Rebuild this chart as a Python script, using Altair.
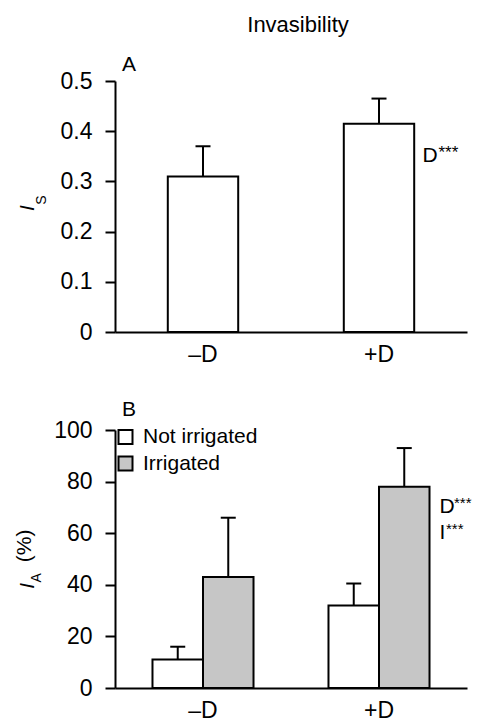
import altair as alt
import pandas as pd

FONT = "Liberation Sans"

conditions = ["–D", "+D"]
is_mean = [0.31, 0.415]
is_err = [0.06, 0.05]

groups = ["Not irrigated", "Irrigated"]
ia_not = [11, 32]
ia_not_err = [5, 8.5]
ia_irr = [43, 78]
ia_irr_err = [23, 15]

grey = "#c6c6c6"

dfA = pd.DataFrame({
    "cond": conditions,
    "mean": is_mean,
    "upper": [m + e for m, e in zip(is_mean, is_err)],
})

rows = []
for i, c in enumerate(conditions):
    rows.append({"cond": c, "irr": groups[0], "mean": ia_not[i], "upper": ia_not[i] + ia_not_err[i]})
    rows.append({"cond": c, "irr": groups[1], "mean": ia_irr[i], "upper": ia_irr[i] + ia_irr_err[i]})
dfB = pd.DataFrame(rows)

# annotation texts
annA = pd.DataFrame({"cond": ["+D"], "y": [0.35], "t": ["D"], "s": ["***"]})
annB_D = pd.DataFrame({"cond": ["+D"], "y": [70], "t": ["D"], "s": ["***"]})
annB_I = pd.DataFrame({"cond": ["+D"], "y": [60], "t": ["I"], "s": ["***"]})
ytA = pd.DataFrame({"y": [0.247], "t": ["I"]})
ytA2 = pd.DataFrame({"y": [0.263], "t": ["S"]})
ytB = pd.DataFrame({"y": [39.6], "t": ["I"]})
ytB2 = pd.DataFrame({"y": [42.7], "t": ["A"]})
ytB3 = pd.DataFrame({"y": [55.1], "t": ["(%)"]})

xaxis = alt.Axis(ticks=False, labelAngle=0, labelPadding=11, labelFontSize=23, title=None)
xs = alt.X("cond:N", sort=conditions)


def ann(df, dx, dy=0, size=21, field="t"):
    return alt.Chart(df).mark_text(font=FONT, fontSize=size, align="left", dx=dx, dy=dy,
                                   color="black").encode(x=xs, y="y:Q", text=f"{field}:N")


def ytitle(df, x, size, italic=False):
    kw = {"fontStyle": "italic"} if italic else {}
    return alt.Chart(df).mark_text(font=FONT, fontSize=size, angle=270, align="center",
                                   baseline="middle", color="black", **kw).encode(
        x=alt.value(x), y="y:Q", text="t:N")


# ---------- Panel A ----------
xA = alt.X("cond:N", sort=conditions, title=None,
           scale=alt.Scale(paddingInner=0.6, paddingOuter=0.3), axis=xaxis)
yA = alt.Y("mean:Q", title=None, scale=alt.Scale(domain=[0, 0.5]),
           axis=alt.Axis(values=[0, 0.1, 0.2, 0.3, 0.4, 0.5],
                         labelExpr="datum.value == 0 ? '0' : format(datum.value, '.1f')"))

baseA = alt.Chart(dfA)
barsA = baseA.mark_bar(fill="white", stroke="black", strokeWidth=2).encode(x=xA, y=yA)
errA = baseA.mark_rule(color="black", strokeWidth=2).encode(x=xs, y="mean:Q", y2="upper:Q")
capA = baseA.mark_tick(color="black", size=15, thickness=2, opacity=1).encode(x=xs, y="upper:Q")

panelA = alt.layer(
    barsA, errA, capA,
    ann(annA, 43.5), ann(annA, 59.5, -3, 17, "s"),
    ytitle(ytA, -87, 21, True), ytitle(ytA2, -73, 14),
).properties(
    width=352, height=251,
    title=alt.TitleParams("A", anchor="start", frame="group", fontSize=21, font=FONT,
                          fontWeight="normal", dx=7, offset=-5.4, color="black"))

# ---------- Panel B ----------
xB = alt.X("cond:N", sort=conditions, title=None,
           scale=alt.Scale(paddingInner=0.426, paddingOuter=0.213), axis=xaxis)
yB = alt.Y("mean:Q", title=None, scale=alt.Scale(domain=[0, 100]),
           axis=alt.Axis(values=[0, 20, 40, 60, 80, 100]))
xoff = alt.XOffset("irr:N", sort=groups, scale=alt.Scale(paddingInner=0))

baseB = alt.Chart(dfB)
barsB = baseB.mark_bar(stroke="black", strokeWidth=2).encode(
    x=xB, xOffset=xoff, y=yB,
    fill=alt.Fill("irr:N", sort=groups,
                  scale=alt.Scale(domain=groups, range=["white", grey]),
                  legend=alt.Legend(orient="none", legendX=0, legendY=-3.5, title=None,
                                    symbolType="square", symbolSize=196,
                                    symbolStrokeColor="black", symbolStrokeWidth=2,
                                    labelFontSize=21, labelFont=FONT, labelColor="black",
                                    labelOffset=7, rowPadding=3.5, padding=0)))
errB = baseB.mark_rule(color="black", strokeWidth=2).encode(
    x=xs, xOffset=xoff, y="mean:Q", y2="upper:Q")
capB = baseB.mark_tick(color="black", size=15, thickness=2, opacity=1).encode(
    x=xs, xOffset=xoff, y="upper:Q")

panelB = alt.layer(
    barsB, errB, capB,
    ann(annB_D, 60.5), ann(annB_D, 75, -4, 15, "s"),
    ann(annB_I, 60.5), ann(annB_I, 67, -4, 15, "s"),
    ytitle(ytB, -87, 21, True), ytitle(ytB2, -78, 14), ytitle(ytB3, -90, 21),
).properties(
    width=352, height=258,
    title=alt.TitleParams("B", anchor="start", frame="group", fontSize=21, font=FONT,
                          fontWeight="normal", dx=7, offset=-0.5, color="black"))

chart = alt.vconcat(panelA, panelB, spacing=98, bounds="flush").resolve_legend(
    fill="independent"
).properties(
    title=alt.TitleParams("Invasibility", fontSize=22, font=FONT, fontWeight="normal",
                          color="black", anchor="middle", frame="group", dx=7, offset=17),
    padding={"left": 6, "top": 6, "right": 0, "bottom": 0},
).configure_view(stroke=None).configure_axis(
    domainColor="black", domainWidth=2, tickColor="black", tickWidth=2, tickSize=10,
    labelFont=FONT, labelFontSize=23, labelColor="black", labelPadding=13, grid=False,
).configure_axisX(labelPadding=11).configure_text(font=FONT)

chart.save("out.html", embed_options={"renderer": "svg", "actions": False})
